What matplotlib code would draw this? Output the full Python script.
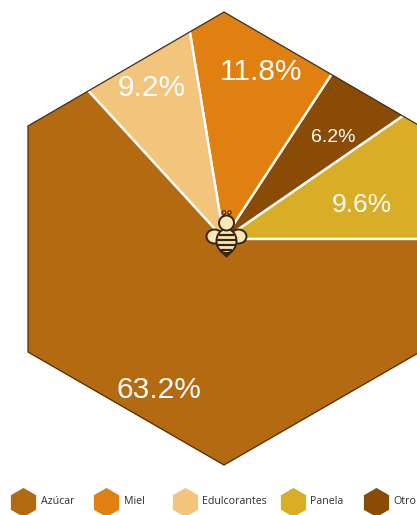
import matplotlib
matplotlib.use('Agg')
import matplotlib.pyplot as plt
from matplotlib.patches import Polygon, Ellipse, Circle

plt.rcParams['font.family'] = ['Liberation Sans', 'DejaVu Sans']

# datos, en el orden en que gira la tarta desde las 3 en punto
categorias = ['Panela', 'Otro', 'Miel', 'Edulcorantes', 'Azúcar']
valores = [9.6, 6.2, 11.8, 9.2, 63.2]
colores = ['#D9AE26', '#8A4B06', '#E08010', '#F3C47C', '#B46A10']

# orden de la leyenda
leyenda = ['Azúcar', 'Miel', 'Edulcorantes', 'Panela', 'Otro']

W, H = 417, 515
fig = plt.figure(figsize=(W / 100, H / 100), dpi=100, facecolor='white')
ax = fig.add_axes([0, 0, 1, 1])


def py(y):
    # y en pixeles desde arriba
    return H - y


# tarta recortada por el hexagono
cx, cy = 224, py(239)
hexagono = Polygon([(224, py(12)), (420, py(126)), (420, py(352)), (224, py(465)),
                    (28, py(352)), (28, py(126))], closed=True, fc='none',
                   ec='#4A2C0C', lw=0.9, zorder=3)
ax.add_patch(hexagono)

wedges, _ = ax.pie(valores, colors=colores, startangle=0, counterclock=True,
                   radius=320, center=(cx, cy),
                   wedgeprops=dict(edgecolor='white', linewidth=1.7))
for w in wedges:
    # pie los deja con clip_on=False
    w.set_clip_on(True)
    w.set_clip_path(hexagono)

ax.set_xlim(0, W)
ax.set_ylim(0, H)
ax.set_aspect('equal')
ax.axis('off')

# etiquetas de porcentaje
posiciones = {'Panela': (362, 205, 19), 'Otro': (333, 138, 14),
              'Miel': (261, 72, 21.5), 'Edulcorantes': (151.5, 88, 21.5),
              'Azúcar': (159, 390, 21.5)}
for nombre, v in zip(categorias, valores):
    x, y, fs = posiciones[nombre]
    ax.text(x, py(y), f'{v}%', color='white', fontsize=fs,
            ha='center', va='center', zorder=4)

# abeja del centro
tinta = '#3A2410'
crema = '#F8E8B8'
for x in (214.5, 238.5):
    ax.add_patch(Ellipse((x, py(236.5)), 16, 14, fc=crema, ec=tinta, lw=1.4, zorder=5))
ax.add_patch(Polygon([(220, py(251)), (233, py(251)), (226.5, py(257))], closed=True,
                     fc=tinta, ec=tinta, lw=0.8, zorder=5))
ax.add_patch(Ellipse((226.5, py(241)), 20, 24, fc=crema, ec=tinta, lw=1.4, zorder=6))
for y, ancho in ((235, 15), (240, 19), (245, 18), (250, 12)):
    ax.plot([226.5 - ancho / 2, 226.5 + ancho / 2], [py(y), py(y)], color=tinta,
            lw=1.6, solid_capstyle='butt', zorder=7)
ax.add_patch(Circle((226.5, py(223)), 7.5, fc=crema, ec=tinta, lw=1.4, zorder=7))
for x0, x1 in ((225, 224), (228, 229.5)):
    ax.plot([x0, x1], [py(217), py(214)], color=tinta, lw=0.9, zorder=6)
    ax.add_patch(Circle((x1, py(212.5)), 1.7, fc='#D9AE26', ec=tinta, lw=0.8, zorder=7))

# leyenda
x_hex = [23, 106, 185, 293, 376]
x_txt = [41, 124, 202, 310, 393]
for nombre, xh, xt in zip(leyenda, x_hex, x_txt):
    ax.scatter([xh], [py(502)], marker='h', s=440, linewidths=0,
               color=colores[categorias.index(nombre)], clip_on=True, zorder=3)
    ax.text(xt, py(501), nombre, color='#2E2E2E', fontsize=7.7, family=['Open Sans', 'DejaVu Sans'],
            ha='left', va='center')

fig.savefig('out.png', dpi=100)
